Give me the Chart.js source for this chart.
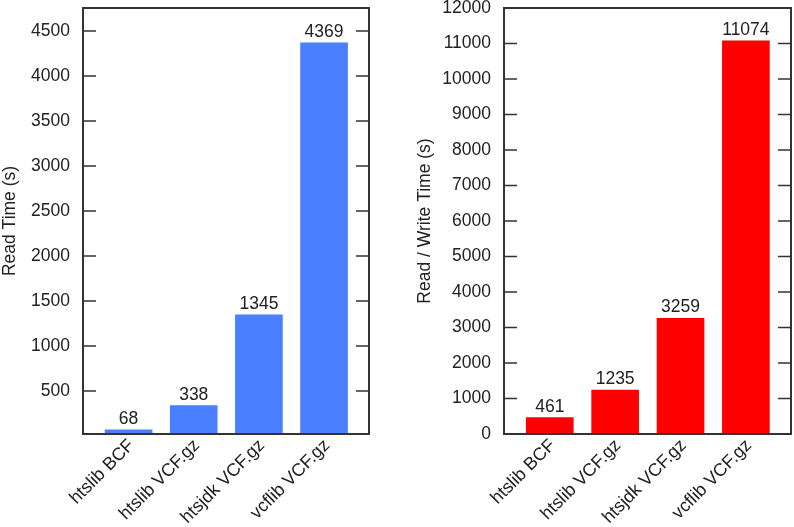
<!DOCTYPE html>
<html>
<head>
<meta charset="utf-8">
<script src="https://cdn.jsdelivr.net/npm/chart.js@4"></script>
<style>
  html, body { margin: 0; padding: 0; background: #fff; }
  #wrap { position: relative; width: 794px; height: 527px; }
  .pane { position: absolute; top: 0; width: 397px; height: 527px; }
</style>
</head>
<body>
<div id="wrap">
  <div class="pane" style="left:0"><canvas id="c1"></canvas></div>
  <div class="pane" style="left:397px"><canvas id="c2"></canvas></div>
</div>
<script>
const categories = ["htslib BCF", "htslib VCF.gz", "htsjdk VCF.gz", "vcflib VCF.gz"];
const readTime = [68, 338, 1345, 4369];
const readWriteTime = [461, 1235, 3259, 11074];
const readTicks = [500, 1000, 1500, 2000, 2500, 3000, 3500, 4000, 4500];
const readWriteTicks = [0, 1000, 2000, 3000, 4000, 5000, 6000, 7000, 8000, 9000, 10000, 11000, 12000];

const FONT = "'Liberation Sans', Arial, sans-serif";
const FRAME = '#333333';

const framePlugin = {
  id: 'frame',
  afterDatasetsDraw(chart) {
    const {ctx, chartArea: a, scales} = chart;
    ctx.save();
    ctx.strokeStyle = FRAME;
    ctx.lineWidth = 1.5;
    const y = scales.y;
    y.ticks.forEach(t => {
      const py = y.getPixelForValue(t.value);
      ctx.beginPath();
      ctx.moveTo(a.left, py); ctx.lineTo(a.left + 13, py);
      ctx.moveTo(a.right, py); ctx.lineTo(a.right - 13, py);
      ctx.stroke();
    });
    ctx.lineWidth = 2;
    ctx.strokeRect(a.left, a.top, a.right - a.left, a.bottom - a.top);
    ctx.fillStyle = '#222';
    ctx.font = '17.5px ' + FONT;
    ctx.textAlign = 'center';
    ctx.textBaseline = 'bottom';
    const meta = chart.getDatasetMeta(0);
    const vals = chart.data.datasets[0].data;
    meta.data.forEach((bar, i) => {
      ctx.fillText(String(vals[i].y), bar.x, bar.y - 2);
    });
    ctx.restore();
  }
};

function makeChart(id, values, ticks, yMin, yMax, color, title, axisWidth, padRight, titlePad) {
  return new Chart(document.getElementById(id), {
    type: 'bar',
    data: {
      datasets: [{
        data: values.map((v, i) => ({x: i, y: v})),
        backgroundColor: color,
        borderWidth: 0,
        barThickness: 47
      }]
    },
    options: {
      responsive: true,
      maintainAspectRatio: false,
      animation: false,
      layout: { padding: { left: 0, right: padRight, top: 8, bottom: 0 } },
      plugins: { legend: { display: false }, tooltip: { enabled: false } },
      scales: {
        x: {
          type: 'linear',
          min: -0.7,
          max: 3.69,
          offset: false,
          grid: { display: false, drawTicks: false, offset: false },
          border: { display: false },
          afterBuildTicks: s => { s.ticks = categories.map((c, i) => ({value: i})); },
          afterFit: s => { s.height = 93; s.paddingLeft = 0; s.paddingRight = 0; },
          ticks: {
            autoSkip: false,
            minRotation: 45,
            maxRotation: 45,
            padding: 1,
            labelOffset: 3,
            color: '#222',
            font: { family: FONT, size: 18 },
            callback: v => categories[v]
          }
        },
        y: {
          min: yMin,
          max: yMax,
          grid: { display: false, drawTicks: false },
          border: { display: false },
          afterBuildTicks: s => { s.ticks = ticks.map(v => ({value: v})); },
          afterFit: s => { s.width = axisWidth; s.paddingTop = 0; s.paddingBottom = 0; },
          ticks: {
            padding: 13,
            color: '#222',
            font: { family: FONT, size: 17.5 },
            callback: v => String(v)
          },
          title: {
            display: true,
            text: title,
            color: '#222',
            font: { family: FONT, size: 17.5 },
            padding: { top: titlePad, bottom: 0 }
          }
        }
      }
    },
    plugins: [framePlugin]
  });
}

makeChart('c1', readTime, readTicks, 22, 4755, '#4a7fff', 'Read Time (s)', 83, 28, 0);
makeChart('c2', readWriteTime, readWriteTicks, 0, 12000, '#ff0000', 'Read / Write Time (s)', 107, 3, 18);
</script>
</body>
</html>
